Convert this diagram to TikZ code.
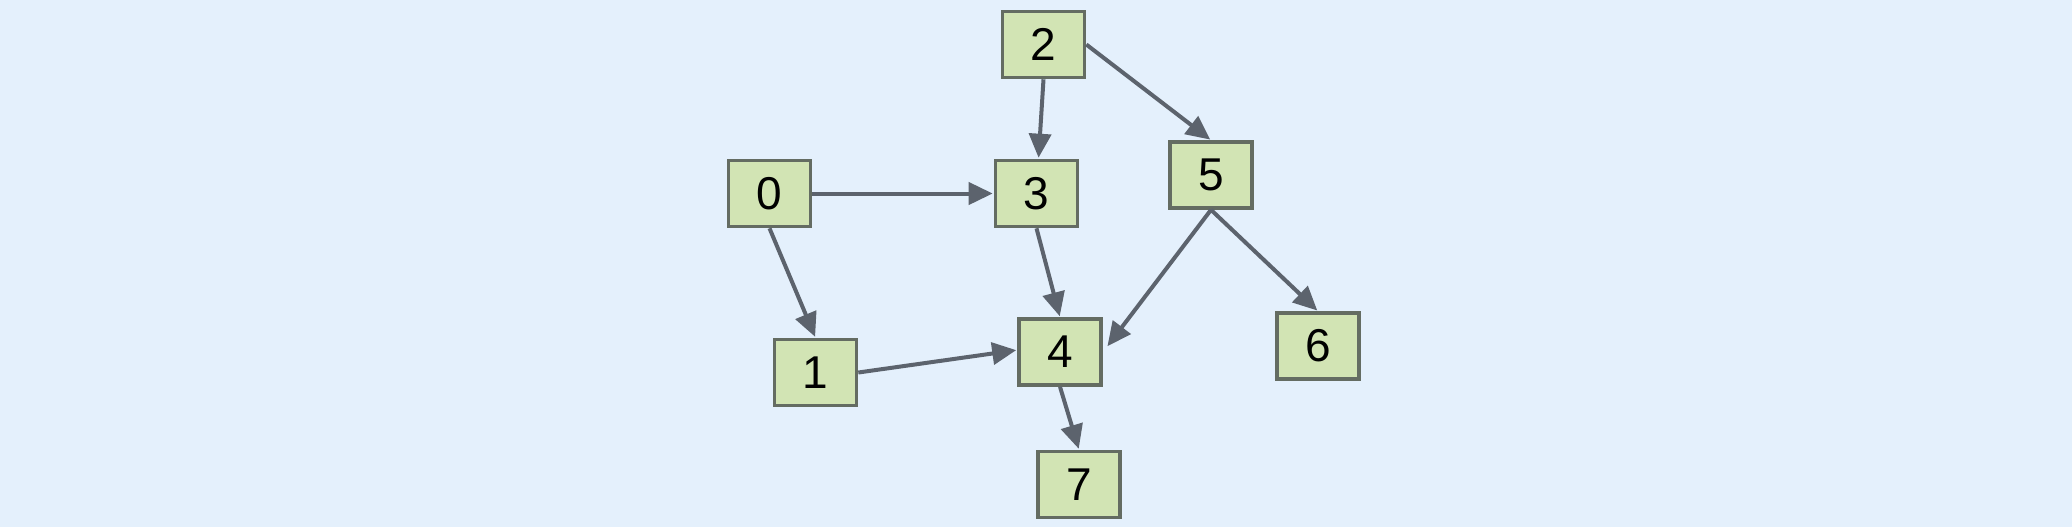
\documentclass[tikz,border=0pt]{standalone}
\usepackage{fontspec}
\setmainfont{Liberation Sans}
\usetikzlibrary{arrows.meta}
\definecolor{bgc}{HTML}{E4F0FC}
\definecolor{boxfill}{HTML}{D2E4B4}
\definecolor{boxline}{HTML}{646C62}
\definecolor{edgec}{HTML}{5C636D}
\tikzset{
  vbox/.style={draw=boxline, fill=boxfill, line width=1.8pt, minimum width=41pt, minimum height=33pt, inner sep=0pt, font=\fontsize{23}{23}\selectfont},
  edge/.style={draw=edgec, line width=2pt, -{Triangle[length=12pt,width=11pt]}, shorten >=0.5pt}
}
\begin{document}
\begin{tikzpicture}[x=0.5pt,y=-0.5pt]
\fill[bgc] (0,0) rectangle (2072,527);
\useasboundingbox (0,0) rectangle (2072,527);
\node[vbox] (n2) at (1043.5,44.5) {2};
\node[vbox] (n0) at (769.5,193.5) {0};
\node[vbox] (n3) at (1036.5,193.5) {3};
\node[vbox] (n5) at (1211,175) {5};
\node[vbox] (n1) at (815.5,372.5) {1};
\node[vbox] (n4) at (1060,352) {4};
\node[vbox] (n6) at (1318,346) {6};
\node[vbox] (n7) at (1079,484.5) {7};
\draw[edge] (n0.east) -- (n3.west);
\draw[edge] (n0.south) -- (n1.north);
\draw[edge] (n2.south) -- ([xshift=1pt]n3.north);
\draw[edge] (n2.east) -- (n5.north);
\draw[edge] (n3.south) -- (n4.north);
\draw[edge] (n1.east) -- ([yshift=1pt]n4.west);
\draw[edge] (n5.south) -- ([xshift=2pt,yshift=2.5pt]n4.east);
\draw[edge] (n5.south) -- (n6.north);
\draw[edge] (n4.south) -- (n7.north);
\end{tikzpicture}
\end{document}
